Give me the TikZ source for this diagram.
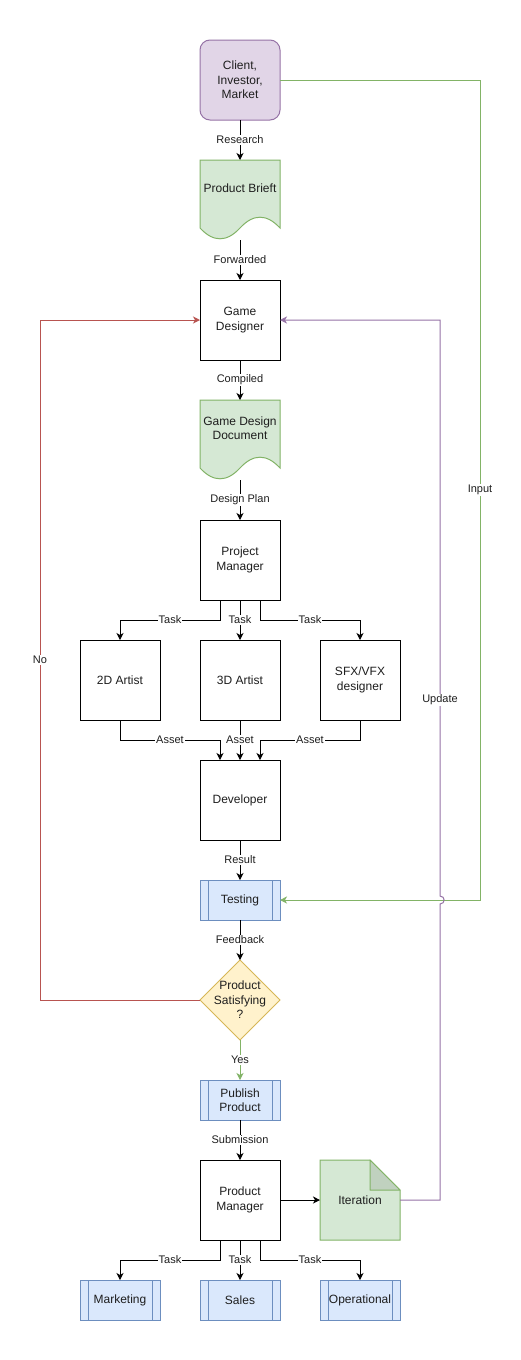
\documentclass[tikz,border=0pt]{standalone}
\usepackage{fontspec}
\setmainfont{Liberation Sans}
\usetikzlibrary{arrows.meta,shapes.geometric,calc}
\definecolor{pfill}{HTML}{E1D5E7}\definecolor{pline}{HTML}{9673A6}
\definecolor{gfill}{HTML}{D5E8D4}\definecolor{gline}{HTML}{82B366}
\definecolor{gfold}{HTML}{C0D1BF}
\definecolor{bfill}{HTML}{DAE8FC}\definecolor{bline}{HTML}{6C8EBF}
\definecolor{yfill}{HTML}{FFF2CC}\definecolor{yline}{HTML}{D6B656}
\definecolor{rline}{HTML}{B85450}
\definecolor{txt}{HTML}{1E1E1E}
\begin{document}
\begin{tikzpicture}[x=1pt,y=-1pt,line width=1pt,
  every node/.style={text=txt,font=\fontsize{12}{14.5}\selectfont,align=center},
  box/.style={draw=black,fill=white,minimum width=80pt,minimum height=80pt,inner sep=0pt,outer sep=0pt},
  blank/.style={minimum width=80pt,minimum height=80pt,inner sep=0pt,outer sep=0pt},
  procbox/.style={draw=bline,fill=bfill,minimum width=80pt,minimum height=40pt,inner sep=0pt,outer sep=0pt},
  lbl/.style={fill=white,font=\fontsize{11}{13}\selectfont,inner sep=1pt},
  arr/.style={-{Stealth[length=7pt,width=7pt,inset=2pt]},black},
  docshape/.style={draw=gline,fill=gfill}
]
\useasboundingbox[fill=white] (0,0) rectangle (520,1360);

% Client
\node[box,draw=pline,fill=pfill,rounded corners=10pt] (client) at (240,80) {Client,\\Investor,\\Market};

% Product brief document
\draw[docshape] (200,160) -- (280,160) -- (280,228) .. controls (266.67,213.6) and (253.33,213.6) .. (240,228) .. controls (226.67,242.4) and (213.33,242.4) .. (200,228) -- cycle;
\node[blank] (brief) at (240,200) {};
\node at (240,188) {Product Brieft};

\node[box] (gd) at (240,320) {Game\\Designer};

% GDD document
\draw[docshape] (200,400) -- (280,400) -- (280,468) .. controls (266.67,453.6) and (253.33,453.6) .. (240,468) .. controls (226.67,482.4) and (213.33,482.4) .. (200,468) -- cycle;
\node[blank] (gdd) at (240,440) {};
\node at (240,428) {Game Design\\Document};

\node[box] (pm) at (240,560) {Project\\Manager};
\node[box] (a2d) at (120,680) {2D Artist};
\node[box] (a3d) at (240,680) {3D Artist};
\node[box] (sfx) at (360,680) {SFX/VFX\\designer};
\node[box] (dev) at (240,800) {Developer};

% Testing process
\node[procbox] (test) at (240,900) {Testing};
\draw[bline] (208,880) -- (208,920) (272,880) -- (272,920);

% Diamond
\node[diamond,draw=yline,fill=yfill,minimum width=80pt,minimum height=80pt,inner sep=0pt,outer sep=0pt] (dia) at (240,1000) {};
\node at (dia.center) {Product\\Satisfying\\?};

% Publish
\node[procbox] (pub) at (240,1100) {Publish\\Product};
\draw[bline] (208,1080) -- (208,1120) (272,1080) -- (272,1120);

\node[box] (prm) at (240,1200) {Product\\Manager};

% Iteration note
\draw[draw=gline,fill=gfill] (320,1160) -- (370,1160) -- (400,1190) -- (400,1240) -- (320,1240) -- cycle;
\draw[draw=gline,fill=gfold,line join=round] (370,1160) -- (370,1190) -- (400,1190) -- cycle;
\node[blank] (iter) at (360,1200) {Iteration};

% Bottom processes
\node[procbox] (mkt) at (120,1300) {Marketing};
\draw[bline] (88,1280) -- (88,1320) (152,1280) -- (152,1320);
\node[procbox] (sales) at (240,1300) {Sales};
\draw[bline] (208,1280) -- (208,1320) (272,1280) -- (272,1320);
\node[procbox] (ops) at (360,1300) {Operational};
\draw[bline] (328,1280) -- (328,1320) (392,1280) -- (392,1320);

% Connectors
\draw[arr] (client) -- node[lbl]{Research} (brief);
\draw[arr] (brief) -- node[lbl]{Forwarded} (gd);
\draw[arr] (gd) -- node[lbl]{Compiled} (gdd);
\draw[arr] (gdd) -- node[lbl]{Design Plan} (pm);

\draw[arr] ([xshift=-20pt]pm.south) -- ++(0,20) -| node[lbl,pos=0.25]{Task} (a2d.north);
\draw[arr] (pm.south) -- node[lbl]{Task} (a3d.north);
\draw[arr] ([xshift=20pt]pm.south) -- ++(0,20) -| node[lbl,pos=0.25]{Task} (sfx.north);

\draw[arr] (a2d.south) -- ++(0,20) -| node[lbl,pos=0.25]{Asset} ([xshift=-20pt]dev.north);
\draw[arr] (a3d.south) -- node[lbl]{Asset} (dev.north);
\draw[arr] (sfx.south) -- ++(0,20) -| node[lbl,pos=0.25]{Asset} ([xshift=20pt]dev.north);

\draw[arr] (dev) -- node[lbl]{Result} (test);
\draw[arr] (test) -- node[lbl]{Feedback} (dia);
\draw[arr,gline] (dia) -- node[lbl]{Yes} (pub);
\draw[arr] (pub) -- node[lbl]{Submission} (prm);
\draw[arr] (prm) -- (iter);

\draw[arr] ([xshift=-20pt]prm.south) -- ++(0,20) -| node[lbl,pos=0.25]{Task} (mkt.north);
\draw[arr] (prm.south) -- node[lbl]{Task} (sales.north);
\draw[arr] ([xshift=20pt]prm.south) -- ++(0,20) -| node[lbl,pos=0.25]{Task} (ops.north);

% Feedback loops
\draw[arr,rline] (dia.west) -- (40,1000) -- node[lbl]{No} (40,320) -- (gd.west);
\draw[arr,gline] (client.east) -- (480,80) -- node[lbl]{Input} (480,900) -- (test.east);
\draw[arr,pline] (iter.east) -- (440,1200) -- (440,904) .. controls (445.5,904) and (445.5,896) .. (440,896) -- (440,320) -- (gd.east);
\node[lbl] (upd) at (440,700) {Update};
\end{tikzpicture}
\end{document}
